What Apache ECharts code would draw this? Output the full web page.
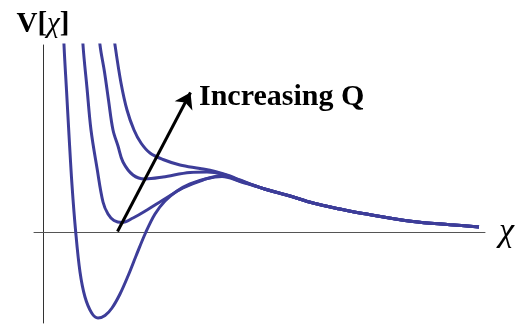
<!DOCTYPE html>
<html>
<head>
<meta charset="utf-8">
<script src="https://cdn.jsdelivr.net/npm/echarts@6/dist/echarts.min.js"></script>
<style>
  html, body { margin: 0; padding: 0; background: #fff; }
  #chart { width: 519px; height: 331px; }
</style>
</head>
<body>
<div id="chart"></div>
<script>
// curves (chi, V), one per value of Q
var c1Chi = [0.49, 0.525, 0.5875, 0.65, 0.725, 0.8175, 0.925, 1.05, 1.2175, 1.375, 1.55, 1.725, 1.925, 2.125, 2.325, 2.5625, 2.8, 3.05, 3.35, 3.675, 4.1, 4.475, 4.925];
var c1V = [11.6, 9.35, 7.1, 4.85, 2.35, 0, -2.0, -3.25, -4.05, -4.3, -4.175, -3.8, -3.1, -2.2, -1.2, -0.05, 0.9, 1.55, 2.05, 2.4, 2.675, 2.775, 2.525];

var c2Chi = [0.95, 1.0, 1.1, 1.2, 1.35, 1.5, 1.625, 1.775, 1.975, 2.25, 2.6, 3.0, 3.5, 4.0, 4.475, 4.925];
var c2V = [11.6, 9.35, 7.2, 5.1, 3.2, 1.5, 0.9, 0.575, 0.475, 0.7, 1.1, 1.6, 2.2, 2.6, 2.825, 2.55];

var c3Chi = [1.325, 1.425, 1.5375, 1.6375, 1.75, 1.875, 2.0, 2.25, 2.55, 3.0, 3.675, 4.1, 4.475, 4.925];
var c3V = [11.6, 9.35, 8.0, 6.6, 5.1, 4.3, 3.5, 2.85, 2.65, 2.75, 2.975, 3.0, 2.9, 2.575];

var c4Chi = [1.65, 1.8, 1.95, 2.1, 2.275, 2.45, 2.675, 3.0, 3.425, 3.925, 4.3, 4.675, 4.925];
var c4V = [11.6, 9.35, 7.45, 6.1, 5.1, 4.45, 3.95, 3.625, 3.35, 3.175, 3.025, 2.8, 2.6];

// shared tail after the curves merge
var tailChi = [5.5, 6.175, 6.75, 7.425, 8.0, 9.25, 10.175, 10.9];
var tailV = [2.175, 1.8, 1.45, 1.15, 0.925, 0.525, 0.365, 0.25];

// arrow (start, end) in chart units
var arrowFrom = [1.8625, 0.025];
var arrowTo = [3.6875, 6.975];

function curve(xs, ys) {
  var pts = [];
  xs.forEach(function (x, i) { pts.push([x, ys[i]]); });
  tailChi.forEach(function (x, i) { pts.push([x, tailV[i]]); });
  return pts;
}

var lineColor = "#3d3d99";
var myChart = echarts.init(document.getElementById("chart"));

function lineSeries(data) {
  return {
    type: "line",
    data: data,
    showSymbol: false,
    smooth: 0.35,
    clip: true,
    lineStyle: { color: lineColor, width: 3 },
    silent: true,
  };
}

var series = [
  lineSeries(curve(c1Chi, c1V)),
  lineSeries(curve(c2Chi, c2V)),
  lineSeries(curve(c3Chi, c3V)),
  lineSeries(curve(c4Chi, c4V)),
];
// arrow drawn as markLine
series[3].markLine = {
  silent: true,
  symbol: ["none", "arrow"],
  symbolSize: 15,
  label: { show: false },
  lineStyle: { color: "#000", width: 3, type: "solid" },
  data: [[{ coord: arrowFrom }, { coord: arrowTo }]],
};

var option = {
  animation: false,
  grid: { left: 34, right: 34, top: 45, bottom: 8 },
  xAxis: {
    type: "value",
    min: -0.225,
    max: 11.05,
    name: "χ",
    nameLocation: "end",
    nameGap: 14,
    nameTextStyle: {
      fontFamily: "Liberation Serif",
      fontStyle: "italic",
      fontSize: 34,
      color: "#000",
    },
    axisLine: { onZero: true, lineStyle: { color: "#555", width: 1 } },
    axisTick: { show: false },
    axisLabel: { show: false },
    splitLine: { show: false },
  },
  yAxis: {
    type: "value",
    min: -4.55,
    max: 9.35,
    name: "{b|V[}{i|χ}{b|]}",
    nameLocation: "end",
    nameGap: 6,
    nameTextStyle: {
      rich: {
        b: { fontFamily: "Liberation Serif", fontWeight: "bold", fontSize: 29, color: "#000" },
        i: { fontFamily: "Liberation Serif", fontStyle: "italic", fontSize: 29, color: "#000" },
      },
    },
    axisLine: { onZero: true, lineStyle: { color: "#333", width: 1 } },
    axisTick: { show: false },
    axisLabel: { show: false },
    splitLine: { show: false },
  },
  graphic: [
    {
      type: "text",
      left: 199,
      top: 82,
      style: {
        text: "Increasing Q",
        fontFamily: "Liberation Serif",
        fontWeight: "bold",
        fontSize: 30,
        fill: "#000",
      },
    },
  ],
  series: series,
};
option && myChart.setOption(option);
</script>
</body>
</html>
